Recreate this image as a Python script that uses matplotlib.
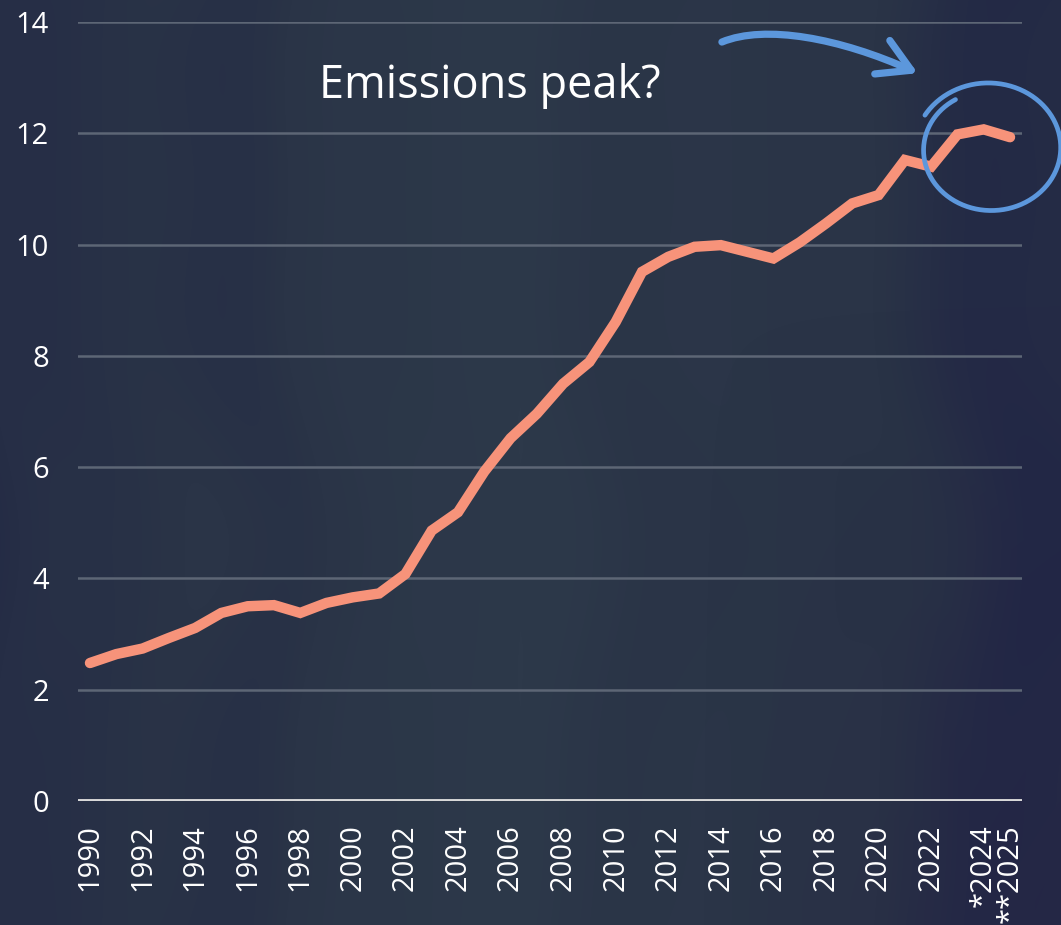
import numpy as np
import matplotlib
matplotlib.use("Agg")
import matplotlib.pyplot as plt
from matplotlib.patches import FancyArrowPatch
from matplotlib.path import Path
from matplotlib.colors import LinearSegmentedColormap

# ---------------- data ----------------
years = list(range(1990, 2026))
emissions = [2.48, 2.64, 2.74, 2.93, 3.11, 3.38, 3.50, 3.52, 3.38, 3.56,
             3.66, 3.73, 4.08, 4.86, 5.19, 5.92, 6.52, 6.96, 7.50, 7.89,
             8.61, 9.51, 9.78, 9.96, 9.99, 9.87, 9.75, 10.04, 10.38, 10.74,
             10.89, 11.52, 11.40, 11.98, 12.07, 11.93]
xtick_years = list(range(1990, 2026, 2)) + [2025]
xtick_labels = [str(y) for y in range(1990, 2024, 2)] + ["*2024", "**2025"]
ytick_vals = [0, 2, 4, 6, 8, 10, 12, 14]
title_text = "Emissions peak?"

LINE_C = "#f7937a"
BLUE_C = "#5c97dc"
TEXT_C = "#ffffff"

plt.rcParams['font.family'] = ['Open Sans', 'DejaVu Sans']

W, H = 1061, 925
fig = plt.figure(figsize=(W / 100, H / 100), dpi=100)

# ---------------- background texture ----------------
bg = fig.add_axes([0, 0, 1, 1], zorder=-10)
yy, xx = np.mgrid[0:H:1, 0:W:1].astype(float)
warp = xx + 30 * np.sin(yy / 120.0) + 12 * np.sin(yy / 55.0 + 1.3)
bands = (0.55 * np.sin(warp / 60.0 + 0.4) + 0.3 * np.sin(warp / 29.0 + 2.0))
edge = np.clip(1 - np.abs(xx - 520) / 600, 0, 1)
val = 0.45 + 0.10 * bands + 0.45 * edge - 0.1
val = np.clip(val, 0, 1)
cmap = LinearSegmentedColormap.from_list("bgc", ["#222845", "#2a3447", "#2d394a"])
bg.imshow(val, cmap=cmap, aspect="auto", extent=[0, W, H, 0], interpolation="bilinear")
tint = np.clip((xx - 700) / 400, 0, 1) * np.clip((yy - 300) / 600, 0, 1)
rgba = np.zeros((H, W, 4))
rgba[..., 0:3] = np.array([0x26, 0x22, 0x45]) / 255.0
rgba[..., 3] = 0.45 * tint
bg.imshow(rgba, aspect="auto", extent=[0, W, H, 0])
bg.set_xlim(0, W)
bg.set_ylim(H, 0)
bg.axis("off")

# ---------------- main axes ----------------
left, right = 78 / W, 1022 / W
top, bottom = 1 - 22 / H, 1 - 801 / H
ax = fig.add_axes([left, bottom, right - left, top - bottom])
ax.patch.set_alpha(0)

ax.set_ylim(0, 14)
ax.set_xlim(1989.544, 2025.456)

for v in ytick_vals[1:]:
    ax.axhline(v, color="#5d6675", lw=1.8, zorder=1)
ax.axhline(0, color="#d9d9d9", lw=2.8, zorder=2)

ax.plot(years, emissions, color=LINE_C, lw=7.5, solid_capstyle="round",
        solid_joinstyle="miter", zorder=3)

for s in ax.spines.values():
    s.set_visible(False)
ax.set_yticks(ytick_vals)
ax.set_yticklabels([str(v) for v in ytick_vals])
ax.set_xticks(xtick_years)
ax.set_xticklabels(xtick_labels, rotation=90)
ax.tick_params(axis="y", length=0, pad=21, labelsize=21, labelcolor=TEXT_C)
ax.tick_params(axis="x", length=0, pad=17, labelsize=21, labelcolor=TEXT_C)

# ---------------- annotations ----------------
ax.text(2005.2, 12.85, title_text, fontsize=32.5, color=TEXT_C,
        ha="center", va="center", zorder=5)

arrow_path = Path([(2014.04, 13.64), (2015.68, 13.96), (2018.53, 13.71), (2021.49, 13.08)],
                  [Path.MOVETO, Path.CURVE4, Path.CURVE4, Path.CURVE4])
arrow = FancyArrowPatch(path=arrow_path,
                        arrowstyle="->,head_length=1.9,head_width=1.1",
                        color=BLUE_C, lw=5.2, capstyle="round",
                        joinstyle="round", mutation_scale=12,
                        clip_on=False, zorder=6)
ax.add_patch(arrow)

# hand-drawn loop around the last points
cx, cy = 2024.23, 11.72
a, b = 2.59, 1.10
t = np.radians(np.linspace(150, -238, 300))
sc = np.linspace(1.10, 0.95, t.size)
ax.plot(cx + a * sc * np.cos(t), cy + b * sc * np.sin(t), color=BLUE_C,
        lw=3.4, solid_capstyle="round", clip_on=False, zorder=6)

fig.savefig("out.png", dpi=100)
